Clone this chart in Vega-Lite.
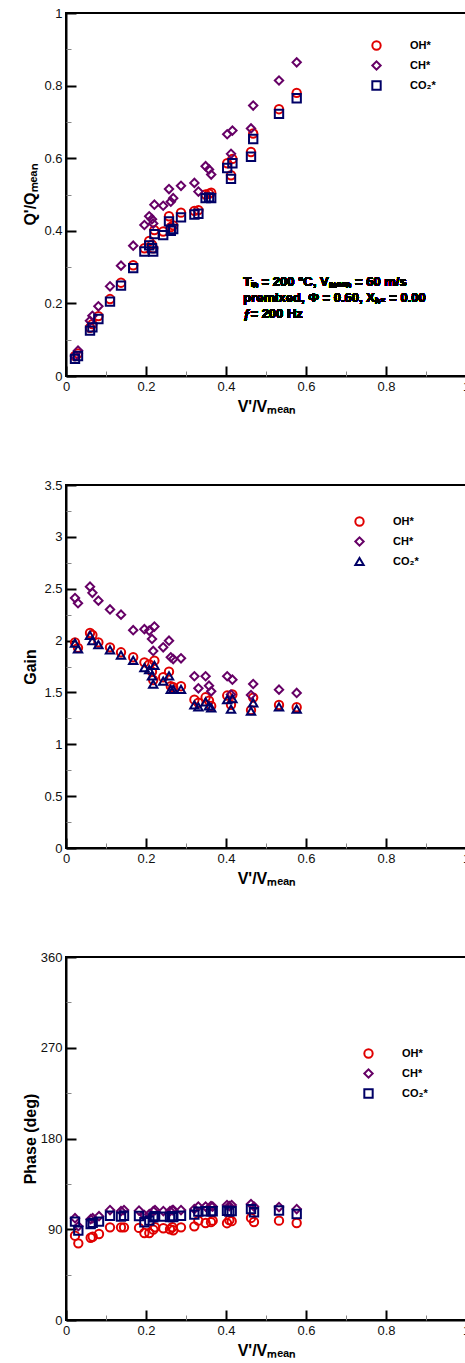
{
 "$schema": "https://vega.github.io/schema/vega-lite/v6.json",
 "background": "white",
 "padding": {"left": 21, "top": 6, "right": 0, "bottom": 0},
 "spacing": 109,
 "bounds": "flush",
 "config": {
  "view": {"stroke": "black", "strokeWidth": 2},
  "axis": {"grid": false, "domainColor": "black", "domainWidth": 2, "tickColor": "black", "tickWidth": 2, "tickSize": -10, "labelPadding": 14, "labelFont": "Liberation Sans", "labelFontSize": 13, "labelColor": "#111", "labelFlush": false, "labelOverlap": false, "titleFont": "Liberation Sans", "titleFontWeight": "bold", "titleFontSize": 16, "titleColor": "black", "titlePadding": 4, "format": "~g"},
  "axisLeft": {"titleX": -28},
  "axisBottom": {"titleY": 22},
  "legend": {"orient": "none", "title": null, "symbolStrokeWidth": 2, "symbolSize": 70, "labelFont": "Liberation Sans", "labelFontWeight": "bold", "labelFontSize": 11, "labelColor": "black", "labelOffset": 28, "padding": 0, "rowPadding": 3}
 },
 "resolve": {"scale": {"color": "independent", "shape": "independent"}, "legend": {"color": "independent", "shape": "independent"}},
 "datasets": {
  "q": [
   {"v":0.0225,"s":"OH*","y":0.055},{"v":0.03,"s":"OH*","y":0.062},{"v":0.06,"s":"OH*","y":0.133},{"v":0.066,"s":"OH*","y":0.143},{"v":0.081,"s":"OH*","y":0.165},{"v":0.11,"s":"OH*","y":0.212},{"v":0.1375,"s":"OH*","y":0.257},{"v":0.168,"s":"OH*","y":0.305},{"v":0.196,"s":"OH*","y":0.352},{"v":0.208,"s":"OH*","y":0.372},{"v":0.215,"s":"OH*","y":0.362},{"v":0.218,"s":"OH*","y":0.352},{"v":0.221,"s":"OH*","y":0.402},{"v":0.243,"s":"OH*","y":0.398},{"v":0.2575,"s":"OH*","y":0.44},{"v":0.262,"s":"OH*","y":0.41},{"v":0.268,"s":"OH*","y":0.415},{"v":0.2875,"s":"OH*","y":0.45},{"v":0.321,"s":"OH*","y":0.455},{"v":0.331,"s":"OH*","y":0.457},{"v":0.349,"s":"OH*","y":0.5},{"v":0.3575,"s":"OH*","y":0.502},{"v":0.363,"s":"OH*","y":0.505},{"v":0.403,"s":"OH*","y":0.586},{"v":0.4125,"s":"OH*","y":0.553},{"v":0.416,"s":"OH*","y":0.598},{"v":0.4625,"s":"OH*","y":0.617},{"v":0.468,"s":"OH*","y":0.668},{"v":0.5325,"s":"OH*","y":0.735},{"v":0.5767,"s":"OH*","y":0.78},
   {"v":0.0225,"s":"CH*","y":0.055},{"v":0.03,"s":"CH*","y":0.07},{"v":0.06,"s":"CH*","y":0.152},{"v":0.066,"s":"CH*","y":0.166},{"v":0.081,"s":"CH*","y":0.192},{"v":0.11,"s":"CH*","y":0.247},{"v":0.1375,"s":"CH*","y":0.304},{"v":0.168,"s":"CH*","y":0.359},{"v":0.196,"s":"CH*","y":0.416},{"v":0.208,"s":"CH*","y":0.44},{"v":0.215,"s":"CH*","y":0.432},{"v":0.218,"s":"CH*","y":0.42},{"v":0.221,"s":"CH*","y":0.472},{"v":0.243,"s":"CH*","y":0.469},{"v":0.2575,"s":"CH*","y":0.515},{"v":0.262,"s":"CH*","y":0.48},{"v":0.268,"s":"CH*","y":0.49},{"v":0.2875,"s":"CH*","y":0.524},{"v":0.321,"s":"CH*","y":0.532},{"v":0.331,"s":"CH*","y":0.508},{"v":0.349,"s":"CH*","y":0.578},{"v":0.3575,"s":"CH*","y":0.569},{"v":0.363,"s":"CH*","y":0.555},{"v":0.403,"s":"CH*","y":0.666},{"v":0.4125,"s":"CH*","y":0.612},{"v":0.416,"s":"CH*","y":0.676},{"v":0.4625,"s":"CH*","y":0.682},{"v":0.468,"s":"CH*","y":0.745},{"v":0.5325,"s":"CH*","y":0.814},{"v":0.5767,"s":"CH*","y":0.864},
   {"v":0.0225,"s":"CO₂*","y":0.047},{"v":0.03,"s":"CO₂*","y":0.055},{"v":0.06,"s":"CO₂*","y":0.125},{"v":0.066,"s":"CO₂*","y":0.134},{"v":0.081,"s":"CO₂*","y":0.157},{"v":0.11,"s":"CO₂*","y":0.205},{"v":0.1375,"s":"CO₂*","y":0.249},{"v":0.168,"s":"CO₂*","y":0.297},{"v":0.196,"s":"CO₂*","y":0.343},{"v":0.208,"s":"CO₂*","y":0.36},{"v":0.215,"s":"CO₂*","y":0.352},{"v":0.218,"s":"CO₂*","y":0.343},{"v":0.221,"s":"CO₂*","y":0.391},{"v":0.243,"s":"CO₂*","y":0.388},{"v":0.2575,"s":"CO₂*","y":0.426},{"v":0.262,"s":"CO₂*","y":0.4},{"v":0.268,"s":"CO₂*","y":0.405},{"v":0.2875,"s":"CO₂*","y":0.437},{"v":0.321,"s":"CO₂*","y":0.445},{"v":0.331,"s":"CO₂*","y":0.447},{"v":0.349,"s":"CO₂*","y":0.49},{"v":0.3575,"s":"CO₂*","y":0.492},{"v":0.363,"s":"CO₂*","y":0.49},{"v":0.403,"s":"CO₂*","y":0.573},{"v":0.4125,"s":"CO₂*","y":0.543},{"v":0.416,"s":"CO₂*","y":0.586},{"v":0.4625,"s":"CO₂*","y":0.604},{"v":0.468,"s":"CO₂*","y":0.653},{"v":0.5325,"s":"CO₂*","y":0.722},{"v":0.5767,"s":"CO₂*","y":0.765}
  ],
  "g": [
   {"v":0.0225,"s":"OH*","y":1.983},{"v":0.03,"s":"OH*","y":1.93},{"v":0.06,"s":"OH*","y":2.073},{"v":0.066,"s":"OH*","y":2.054},{"v":0.081,"s":"OH*","y":1.983},{"v":0.11,"s":"OH*","y":1.935},{"v":0.1375,"s":"OH*","y":1.887},{"v":0.168,"s":"OH*","y":1.839},{"v":0.196,"s":"OH*","y":1.79},{"v":0.208,"s":"OH*","y":1.77},{"v":0.215,"s":"OH*","y":1.7},{"v":0.218,"s":"OH*","y":1.62},{"v":0.221,"s":"OH*","y":1.806},{"v":0.243,"s":"OH*","y":1.646},{"v":0.2575,"s":"OH*","y":1.7},{"v":0.262,"s":"OH*","y":1.56},{"v":0.268,"s":"OH*","y":1.55},{"v":0.2875,"s":"OH*","y":1.56},{"v":0.321,"s":"OH*","y":1.43},{"v":0.331,"s":"OH*","y":1.4},{"v":0.349,"s":"OH*","y":1.453},{"v":0.3575,"s":"OH*","y":1.42},{"v":0.363,"s":"OH*","y":1.37},{"v":0.403,"s":"OH*","y":1.47},{"v":0.4125,"s":"OH*","y":1.38},{"v":0.416,"s":"OH*","y":1.48},{"v":0.4625,"s":"OH*","y":1.33},{"v":0.468,"s":"OH*","y":1.45},{"v":0.5325,"s":"OH*","y":1.379},{"v":0.5767,"s":"OH*","y":1.357},
   {"v":0.0225,"s":"CH*","y":2.41},{"v":0.03,"s":"CH*","y":2.36},{"v":0.06,"s":"CH*","y":2.52},{"v":0.066,"s":"CH*","y":2.46},{"v":0.081,"s":"CH*","y":2.385},{"v":0.11,"s":"CH*","y":2.3},{"v":0.1375,"s":"CH*","y":2.25},{"v":0.168,"s":"CH*","y":2.1},{"v":0.196,"s":"CH*","y":2.11},{"v":0.208,"s":"CH*","y":2.095},{"v":0.215,"s":"CH*","y":2.015},{"v":0.218,"s":"CH*","y":1.9},{"v":0.221,"s":"CH*","y":2.135},{"v":0.243,"s":"CH*","y":1.935},{"v":0.2575,"s":"CH*","y":1.999},{"v":0.262,"s":"CH*","y":1.839},{"v":0.268,"s":"CH*","y":1.822},{"v":0.2875,"s":"CH*","y":1.829},{"v":0.321,"s":"CH*","y":1.656},{"v":0.331,"s":"CH*","y":1.54},{"v":0.349,"s":"CH*","y":1.656},{"v":0.3575,"s":"CH*","y":1.565},{"v":0.363,"s":"CH*","y":1.511},{"v":0.403,"s":"CH*","y":1.656},{"v":0.4125,"s":"CH*","y":1.48},{"v":0.416,"s":"CH*","y":1.623},{"v":0.4625,"s":"CH*","y":1.475},{"v":0.468,"s":"CH*","y":1.581},{"v":0.5325,"s":"CH*","y":1.527},{"v":0.5767,"s":"CH*","y":1.495},
   {"v":0.0225,"s":"CO₂*","y":1.975},{"v":0.03,"s":"CO₂*","y":1.92},{"v":0.06,"s":"CO₂*","y":2.05},{"v":0.066,"s":"CO₂*","y":2.0},{"v":0.081,"s":"CO₂*","y":1.96},{"v":0.11,"s":"CO₂*","y":1.91},{"v":0.1375,"s":"CO₂*","y":1.86},{"v":0.168,"s":"CO₂*","y":1.81},{"v":0.196,"s":"CO₂*","y":1.74},{"v":0.208,"s":"CO₂*","y":1.72},{"v":0.215,"s":"CO₂*","y":1.66},{"v":0.218,"s":"CO₂*","y":1.58},{"v":0.221,"s":"CO₂*","y":1.76},{"v":0.243,"s":"CO₂*","y":1.61},{"v":0.2575,"s":"CO₂*","y":1.66},{"v":0.262,"s":"CO₂*","y":1.53},{"v":0.268,"s":"CO₂*","y":1.53},{"v":0.2875,"s":"CO₂*","y":1.53},{"v":0.321,"s":"CO₂*","y":1.38},{"v":0.331,"s":"CO₂*","y":1.36},{"v":0.349,"s":"CO₂*","y":1.41},{"v":0.3575,"s":"CO₂*","y":1.37},{"v":0.363,"s":"CO₂*","y":1.35},{"v":0.403,"s":"CO₂*","y":1.43},{"v":0.4125,"s":"CO₂*","y":1.34},{"v":0.416,"s":"CO₂*","y":1.44},{"v":0.4625,"s":"CO₂*","y":1.32},{"v":0.468,"s":"CO₂*","y":1.4},{"v":0.5325,"s":"CO₂*","y":1.36},{"v":0.5767,"s":"CO₂*","y":1.34}
  ],
  "p": [
   {"v":0.0225,"s":"OH*","y":83.6},{"v":0.0308,"s":"OH*","y":76},{"v":0.0617,"s":"OH*","y":81.6},{"v":0.0667,"s":"OH*","y":82.6},{"v":0.0825,"s":"OH*","y":85.3},{"v":0.11,"s":"OH*","y":91.9},{"v":0.1375,"s":"OH*","y":91.9},{"v":0.145,"s":"OH*","y":91.9},{"v":0.1825,"s":"OH*","y":91.3},{"v":0.196,"s":"OH*","y":86.3},{"v":0.2083,"s":"OH*","y":86.3},{"v":0.2183,"s":"OH*","y":89.6},{"v":0.2225,"s":"OH*","y":92},{"v":0.2433,"s":"OH*","y":91},{"v":0.26,"s":"OH*","y":90},{"v":0.2658,"s":"OH*","y":92},{"v":0.2683,"s":"OH*","y":89},{"v":0.2875,"s":"OH*","y":91.9},{"v":0.3208,"s":"OH*","y":92.9},{"v":0.3308,"s":"OH*","y":98.5},{"v":0.349,"s":"OH*","y":96.2},{"v":0.3625,"s":"OH*","y":97},{"v":0.3667,"s":"OH*","y":98.5},{"v":0.4025,"s":"OH*","y":96},{"v":0.4083,"s":"OH*","y":99},{"v":0.4142,"s":"OH*","y":98},{"v":0.4625,"s":"OH*","y":101.2},{"v":0.47,"s":"OH*","y":97.2},{"v":0.5325,"s":"OH*","y":98.5},{"v":0.5767,"s":"OH*","y":96.2},
   {"v":0.0225,"s":"CH*","y":101},{"v":0.0308,"s":"CH*","y":93},{"v":0.0617,"s":"CH*","y":100},{"v":0.0667,"s":"CH*","y":101},{"v":0.0825,"s":"CH*","y":103},{"v":0.11,"s":"CH*","y":109},{"v":0.1375,"s":"CH*","y":108},{"v":0.145,"s":"CH*","y":109},{"v":0.1825,"s":"CH*","y":108.5},{"v":0.196,"s":"CH*","y":104},{"v":0.2083,"s":"CH*","y":105},{"v":0.2183,"s":"CH*","y":108},{"v":0.2225,"s":"CH*","y":109},{"v":0.2433,"s":"CH*","y":108},{"v":0.26,"s":"CH*","y":108},{"v":0.2658,"s":"CH*","y":109},{"v":0.2683,"s":"CH*","y":109},{"v":0.2875,"s":"CH*","y":109},{"v":0.3208,"s":"CH*","y":110},{"v":0.3308,"s":"CH*","y":112.5},{"v":0.349,"s":"CH*","y":112.5},{"v":0.3625,"s":"CH*","y":113},{"v":0.3667,"s":"CH*","y":112.5},{"v":0.4025,"s":"CH*","y":114},{"v":0.4083,"s":"CH*","y":113},{"v":0.4142,"s":"CH*","y":114},{"v":0.4625,"s":"CH*","y":115},{"v":0.47,"s":"CH*","y":112.5},{"v":0.5325,"s":"CH*","y":112},{"v":0.5767,"s":"CH*","y":110},
   {"v":0.0225,"s":"CO₂*","y":97.5},{"v":0.0308,"s":"CO₂*","y":88.6},{"v":0.0617,"s":"CO₂*","y":95.2},{"v":0.0667,"s":"CO₂*","y":96.3},{"v":0.0825,"s":"CO₂*","y":97.5},{"v":0.11,"s":"CO₂*","y":103.4},{"v":0.1375,"s":"CO₂*","y":102.5},{"v":0.145,"s":"CO₂*","y":103.4},{"v":0.1825,"s":"CO₂*","y":103.1},{"v":0.196,"s":"CO₂*","y":96.9},{"v":0.2083,"s":"CO₂*","y":98.5},{"v":0.2183,"s":"CO₂*","y":101.8},{"v":0.2225,"s":"CO₂*","y":103},{"v":0.2433,"s":"CO₂*","y":102.5},{"v":0.26,"s":"CO₂*","y":102},{"v":0.2658,"s":"CO₂*","y":103},{"v":0.2683,"s":"CO₂*","y":102},{"v":0.2875,"s":"CO₂*","y":103.4},{"v":0.3208,"s":"CO₂*","y":104.5},{"v":0.3308,"s":"CO₂*","y":107.5},{"v":0.349,"s":"CO₂*","y":107.8},{"v":0.3625,"s":"CO₂*","y":107.8},{"v":0.3667,"s":"CO₂*","y":107.8},{"v":0.4025,"s":"CO₂*","y":108.4},{"v":0.4083,"s":"CO₂*","y":107.5},{"v":0.4142,"s":"CO₂*","y":108},{"v":0.4625,"s":"CO₂*","y":110},{"v":0.47,"s":"CO₂*","y":106.9},{"v":0.5325,"s":"CO₂*","y":108.6},{"v":0.5767,"s":"CO₂*","y":105.1}
  ]
 },
 "vconcat": [
  {
   "width": 400, "height": 363,
   "data": {"name": "q"},
   "resolve": {"axis": {"x": "independent", "y": "independent"}},
   "layer": [
    {
     "mark": {"type": "point", "filled": false, "strokeWidth": 2, "size": 70, "opacity": 1},
     "encoding": {
      "x": {"field": "v", "type": "quantitative", "scale": {"domain": [0, 1], "nice": false}, "axis": {"title": "V'/Vₘₑₐₙ", "values": [0, 0.2, 0.4, 0.6, 0.8, 1], "orient": "bottom"}},
      "y": {"field": "y", "type": "quantitative", "scale": {"domain": [0, 1], "nice": false}, "axis": {"title": "Q'/Qₘₑₐₙ", "values": [0, 0.2, 0.4, 0.6, 0.8, 1], "orient": "left"}},
      "color": {"field": "s", "type": "nominal", "scale": {"domain": ["OH*", "CH*", "CO₂*"], "range": ["#e00000", "#660066", "#000066"]}, "legend": {"legendX": 305, "legendY": 27}},
      "shape": {"field": "s", "type": "nominal", "scale": {"domain": ["OH*", "CH*", "CO₂*"], "range": ["circle", "diamond", "square"]}, "legend": {"legendX": 305, "legendY": 27}}
     }
    },
    {
     "mark": {"type": "point", "opacity": 0},
     "encoding": {
      "x": {"field": "v", "type": "quantitative", "scale": {"domain": [0, 1], "nice": false}, "axis": {"title": null, "values": [0.1, 0.3, 0.5, 0.7, 0.9], "labels": false, "domain": false, "tickSize": -5, "tickWidth": 1, "tickColor": "#888", "orient": "bottom"}},
      "y": {"field": "y", "type": "quantitative", "scale": {"domain": [0, 1], "nice": false}, "axis": {"title": null, "values": [0.1, 0.3, 0.5, 0.7, 0.9], "labels": false, "domain": false, "tickSize": -5, "tickWidth": 1, "tickColor": "#888", "orient": "left"}}
     }
    },
    {
     "mark": {"type": "text", "align": "left", "baseline": "middle", "font": "Liberation Sans", "fontWeight": "bold", "fontSize": 13, "lineBreak": "\n", "lineHeight": 16, "color": "black"},
     "encoding": {
      "x": {"datum": 0.443, "type": "quantitative", "axis": null},
      "y": {"datum": 0.258, "type": "quantitative", "axis": null},
      "text": {"value": "Tᵢₙ = 200 °C, Vₘₑₐₙ = 60 m/s\npremixed, Φ = 0.60, Xₕ₂ = 0.00\nƒ= 200 Hz"}
     }
    }
   ]
  },
  {
   "width": 400, "height": 363,
   "data": {"name": "g"},
   "resolve": {"axis": {"x": "independent", "y": "independent"}},
   "layer": [
    {
     "mark": {"type": "point", "filled": false, "strokeWidth": 2, "size": 70, "opacity": 1},
     "encoding": {
      "x": {"field": "v", "type": "quantitative", "scale": {"domain": [0, 1], "nice": false}, "axis": {"title": "V'/Vₘₑₐₙ", "values": [0, 0.2, 0.4, 0.6, 0.8, 1], "orient": "bottom"}},
      "y": {"field": "y", "type": "quantitative", "scale": {"domain": [0, 3.5], "nice": false}, "axis": {"title": "Gain", "values": [0, 0.5, 1, 1.5, 2, 2.5, 3, 3.5], "orient": "left"}},
      "color": {"field": "s", "type": "nominal", "scale": {"domain": ["OH*", "CH*", "CO₂*"], "range": ["#e00000", "#660066", "#000066"]}, "legend": {"legendX": 288, "legendY": 31}},
      "shape": {"field": "s", "type": "nominal", "scale": {"domain": ["OH*", "CH*", "CO₂*"], "range": ["circle", "diamond", "triangle-up"]}, "legend": {"legendX": 288, "legendY": 31}}
     }
    },
    {
     "mark": {"type": "point", "opacity": 0},
     "encoding": {
      "x": {"field": "v", "type": "quantitative", "scale": {"domain": [0, 1], "nice": false}, "axis": {"title": null, "values": [0.1, 0.3, 0.5, 0.7, 0.9], "labels": false, "domain": false, "tickSize": -5, "tickWidth": 1, "tickColor": "#888", "orient": "bottom"}},
      "y": {"field": "y", "type": "quantitative", "scale": {"domain": [0, 3.5], "nice": false}, "axis": {"title": null, "values": [0.25, 0.75, 1.25, 1.75, 2.25, 2.75, 3.25], "labels": false, "domain": false, "tickSize": -5, "tickWidth": 1, "tickColor": "#888", "orient": "left"}}
     }
    }
   ]
  },
  {
   "width": 400, "height": 363,
   "data": {"name": "p"},
   "resolve": {"axis": {"x": "independent", "y": "independent"}},
   "layer": [
    {
     "mark": {"type": "point", "filled": false, "strokeWidth": 2, "size": 70, "opacity": 1},
     "encoding": {
      "x": {"field": "v", "type": "quantitative", "scale": {"domain": [0, 1], "nice": false}, "axis": {"title": "V'/Vₘₑₐₙ", "values": [0, 0.2, 0.4, 0.6, 0.8, 1], "orient": "bottom"}},
      "y": {"field": "y", "type": "quantitative", "scale": {"domain": [0, 360], "nice": false}, "axis": {"title": "Phase (deg)", "values": [0, 90, 180, 270, 360], "format": "d", "orient": "left"}},
      "color": {"field": "s", "type": "nominal", "scale": {"domain": ["OH*", "CH*", "CO₂*"], "range": ["#e00000", "#660066", "#000066"]}, "legend": {"legendX": 297, "legendY": 91}},
      "shape": {"field": "s", "type": "nominal", "scale": {"domain": ["OH*", "CH*", "CO₂*"], "range": ["circle", "diamond", "square"]}, "legend": {"legendX": 297, "legendY": 91}}
     }
    },
    {
     "mark": {"type": "point", "opacity": 0},
     "encoding": {
      "x": {"field": "v", "type": "quantitative", "scale": {"domain": [0, 1], "nice": false}, "axis": {"title": null, "values": [0.1, 0.3, 0.5, 0.7, 0.9], "labels": false, "domain": false, "tickSize": -5, "tickWidth": 1, "tickColor": "#888", "orient": "bottom"}},
      "y": {"field": "y", "type": "quantitative", "scale": {"domain": [0, 360], "nice": false}, "axis": {"title": null, "values": [45, 135, 225, 315], "labels": false, "domain": false, "tickSize": -5, "tickWidth": 1, "tickColor": "#888", "orient": "left"}}
     }
    }
   ]
  }
 ]
}
